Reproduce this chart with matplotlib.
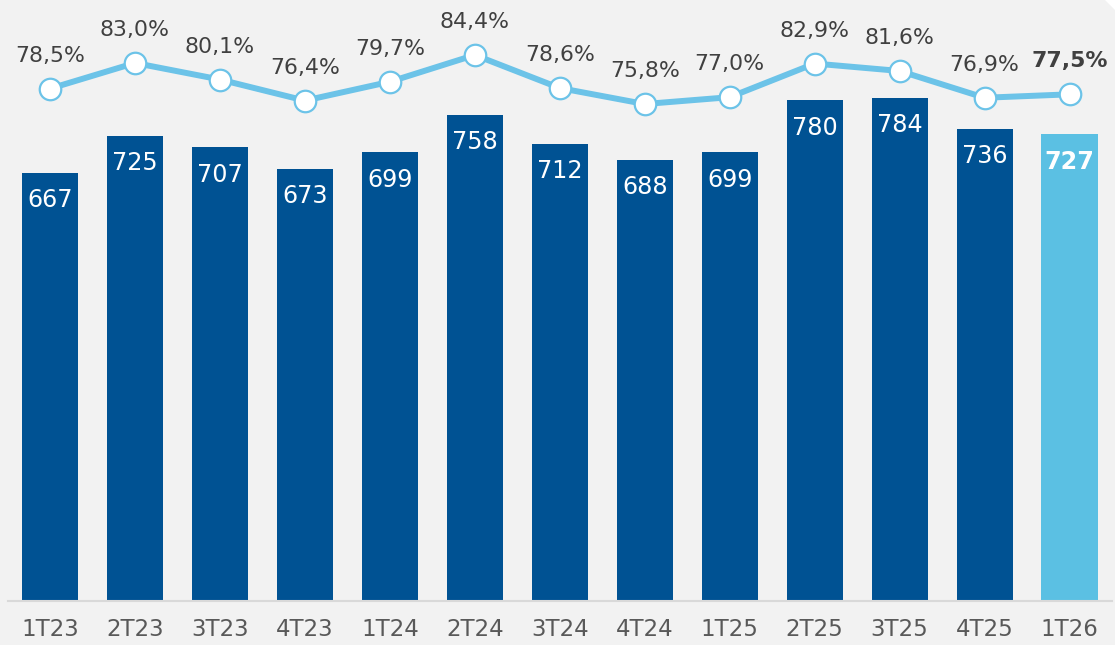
import matplotlib
matplotlib.use("Agg")
import matplotlib.pyplot as plt
from matplotlib.patches import Polygon
import numpy as np

categories = ["1T23", "2T23", "3T23", "4T23", "1T24", "2T24", "3T24", "4T24",
              "1T25", "2T25", "3T25", "4T25", "1T26"]
bar_values = [667, 725, 707, 673, 699, 758, 712, 688, 699, 780, 784, 736, 727]
pct_values = [78.5, 83.0, 80.1, 76.4, 79.7, 84.4, 78.6, 75.8, 77.0, 82.9, 81.6, 76.9, 77.5]

BG = "#F2F2F2"
DARK = "#005293"
LIGHT = "#5BC0E3"
LINE = "#6CC3E8"
TXT = "#404040"
TICK = "#595959"

plt.rcParams['font.family'] = ['DejaVu Sans']

fig = plt.figure(figsize=(11.15, 6.45), dpi=100, facecolor=BG)
ax = fig.add_axes([7.5/1115, 44/645, 1104.5/1115, 601/645])
ax.set_facecolor(BG)

x = np.arange(len(categories))
colors = [DARK]*(len(categories)-1) + [LIGHT]
bars = ax.bar(x, bar_values, width=0.66, color=colors, zorder=2)
ax.set_xlim(-0.5, len(categories)-0.5)
ax.set_ylim(0, 601/0.6417)

for i, (xi, v) in enumerate(zip(x, bar_values)):
    last = i == len(categories)-1
    ax.annotate(f"{v}", (xi, v), xytext=(0, -19.6), textcoords="offset points",
                ha="center", va="center", color="white", fontsize=17.2,
                fontweight="bold" if last else "normal", zorder=5)

for s in ["top", "right", "left"]:
    ax.spines[s].set_visible(False)
ax.spines["bottom"].set_color("#D9D9D9")
ax.spines["bottom"].set_linewidth(1.5)
ax.set_yticks([])
ax.set_xticks(x)
ax.set_xticklabels(categories, fontsize=16.5, color=TICK)
ax.tick_params(axis="x", length=0, pad=12)

ax2 = ax.twinx()
ax2.set_ylim(84.4 - 546/5.7, 84.4 + 55/5.7)
ax2.axis("off")
ax2.plot(x, pct_values, color=LINE, lw=4.3, marker="o", markersize=15.5,
         markerfacecolor="white", markeredgecolor=LINE, markeredgewidth=1.6,
         zorder=3, solid_capstyle="round")
for i, (xi, p) in enumerate(zip(x, pct_values)):
    last = i == len(categories)-1
    ax2.annotate(f"{p:.1f}%".replace(".", ","), (xi, p), xytext=(0, 19.4),
                 textcoords="offset points", ha="center", va="baseline",
                 color=TXT, fontsize=15.8,
                 fontweight="bold" if last else "normal")

# small white cut corner at top right
fig.patches.append(Polygon([[1105/1115, 1], [1, 1], [1, 1 - 10/645]],
                           closed=True, transform=fig.transFigure,
                           facecolor="white", edgecolor="none", zorder=10))

fig.savefig("out.png", dpi=100, facecolor=BG)
